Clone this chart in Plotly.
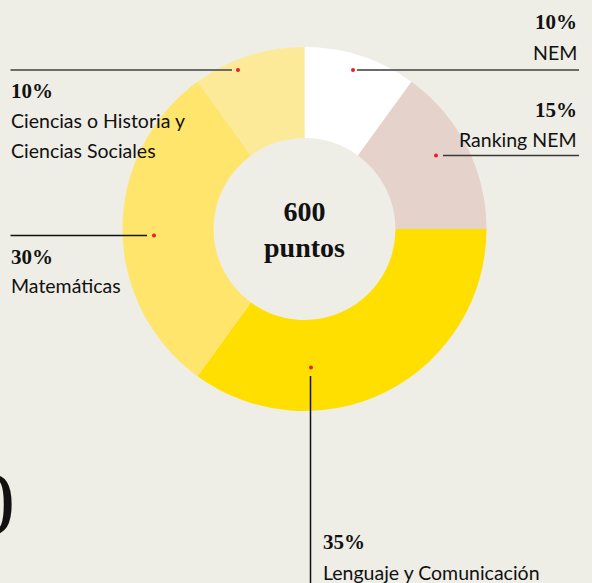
import plotly.graph_objects as go

W, H = 592, 583

# ---- data ----
labels = ["NEM", "Ranking NEM", "Lenguaje y Comunicación", "Matemáticas",
          "Ciencias o Historia y|Ciencias Sociales"]
values = [10, 15, 35, 30, 10]
pct_text = ["10%", "15%", "35%", "30%", "10%"]
colors = ["#ffffff", "#e5d2cb", "#ffdf00", "#ffe56b", "#fdea99"]
center_lines = ["600", "puntos"]

BG = "#eeede6"
RED = "#e5202a"
SANS = "Lato, 'Open Sans', sans-serif"
SERIF = "'Liberation Serif', 'DejaVu Serif', serif"

def px(x):
    return x / W

def py(y):
    return 1 - y / H

# pie geometry (pixels)
cx, cy, R = 304.5, 229, 182

fig = go.Figure(go.Pie(
    labels=[l.replace("|", " ") for l in labels], values=values, hole=0.5, sort=False,
    direction="clockwise", rotation=0,
    marker=dict(colors=colors, line=dict(width=0)),
    textinfo="none", hoverinfo="label+percent", showlegend=False,
    domain=dict(x=[px(cx - R), px(cx + R)], y=[py(cy + R), py(cy - R)]),
))

# callout layout: dot, line segment, line colour, text anchor and line centres
callouts = [
    dict(dot=(353, 70), line=((357, 70), (579, 70)), lc="#6b6b6b", lw=2,
         tx=579, ty=(22, 51), anchor="right"),
    dict(dot=(436, 155.5), line=((443, 155.5), (579, 155.5)), lc="#3a3a3a", lw=1.5,
         tx=579, ty=(110, 138), anchor="right"),
    dict(dot=(311, 367.5), line=((310.5, 376), (310.5, 583)), lc="#111111", lw=1.5,
         tx=321, ty=(542, 571), anchor="left"),
    dict(dot=(154, 235.5), line=((10.5, 235.5), (147, 235.5)), lc="#111111", lw=1.5,
         tx=9, ty=(257, 284), anchor="left"),
    dict(dot=(238, 70), line=((10.5, 70), (232, 70)), lc="#6b6b6b", lw=2,
         tx=9, ty=(91, 120), anchor="left"),
]
LINE_GAP = 29.5

shapes = []
annotations = []
for i, c in enumerate(callouts):
    (x0, y0), (x1, y1) = c["line"]
    shapes.append(dict(type="line", xref="paper", yref="paper",
                       x0=px(x0), y0=py(y0), x1=px(x1), y1=py(y1),
                       line=dict(color=c["lc"], width=c["lw"])))
    dx, dy = c["dot"]
    r = 2
    shapes.append(dict(type="circle", xref="paper", yref="paper",
                       x0=px(dx - r), x1=px(dx + r), y0=py(dy + r), y1=py(dy - r),
                       fillcolor=RED, line=dict(width=0)))
    annotations.append(dict(text=f"<b>{pct_text[i]}</b>", x=px(c["tx"]), y=py(c["ty"][0]),
                            xref="paper", yref="paper", xanchor=c["anchor"], yanchor="middle",
                            showarrow=False, font=dict(family=SERIF, size=21, color="#111111")))
    for k, part in enumerate(labels[i].split("|")):
        annotations.append(dict(text=part, x=px(c["tx"]), y=py(c["ty"][1] + 1 + k * LINE_GAP),
                                xref="paper", yref="paper", xanchor=c["anchor"], yanchor="middle",
                                showarrow=False,
                                font=dict(family=SANS, size=19.5, color="#111111")))

# center text
annotations.append(dict(text=f"<b>{center_lines[0]}</b><br><b>{center_lines[1]}</b>",
                        x=px(cx), y=py(229), xref="paper", yref="paper",
                        xanchor="center", yanchor="middle", showarrow=False,
                        font=dict(family=SERIF, size=28, color="#111111")))

# partially visible big digit at left edge
annotations.append(dict(text="0", x=px(17), y=py(503), xref="paper", yref="paper",
                        xanchor="right", yanchor="middle", showarrow=False,
                        font=dict(family=SERIF, size=88, color="#111111")))

fig.update_layout(
    width=W, height=H, autosize=False,
    margin=dict(l=0, r=0, t=0, b=0),
    paper_bgcolor=BG, plot_bgcolor=BG,
    shapes=shapes, annotations=annotations,
)

fig.write_html("out.html", config={"displayModeBar": False},
               post_script="document.body.style.margin='0';document.body.style.background='" + BG + "';")
